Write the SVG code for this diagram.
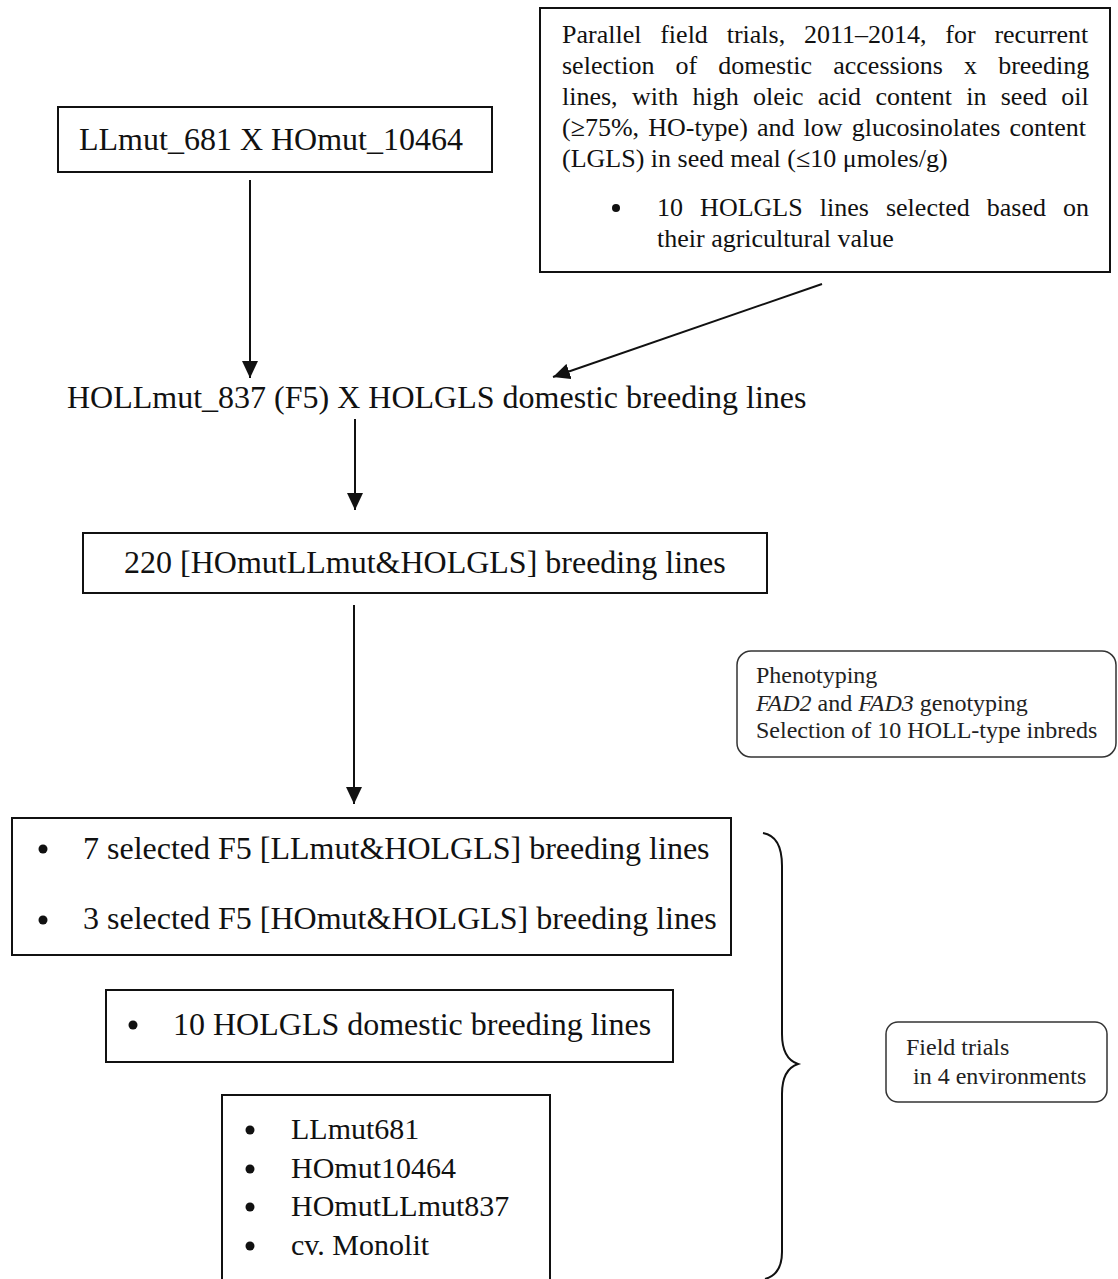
<svg xmlns="http://www.w3.org/2000/svg" width="1118" height="1279" viewBox="0 0 1118 1279">
<defs>
<style>
.box{fill:none;stroke:#111;stroke-width:2}
.rbox{fill:none;stroke:#333;stroke-width:1.5}
.t32{font-family:"Liberation Serif","Times New Roman",serif;font-size:32px;fill:#111}
.t30{font-family:"Liberation Serif","Times New Roman",serif;font-size:30px;fill:#111}
.t26{font-family:"Liberation Serif","Times New Roman",serif;font-size:26px;fill:#111}
.t24{font-family:"Liberation Serif","Times New Roman",serif;font-size:24px;fill:#222}
.bul{fill:#111}
.conn{fill:none;stroke:#111;stroke-width:2}
</style>
<marker id="ah" markerUnits="userSpaceOnUse" markerWidth="18" markerHeight="16" refX="17" refY="8" orient="auto">
<path d="M0,0 L17,8 L0,16 z" fill="#111"/>
</marker>
</defs>
<rect width="1118" height="1279" fill="#fff"/>

<g id="node-trials-box">
<rect class="box" x="540" y="8" width="570" height="264"/>
<text class="t26" x="562" y="43" style="word-spacing:12.3px">Parallel field trials, 2011–2014, for recurrent</text>
<text class="t26" x="562" y="74" style="word-spacing:14.6px">selection of domestic accessions x breeding</text>
<text class="t26" x="562" y="105" style="word-spacing:7.8px">lines, with high oleic acid content in seed oil</text>
<text class="t26" x="562" y="136" style="word-spacing:2.6px">(≥75%, HO-type) and low glucosinolates content</text>
<text class="t26" x="562" y="167">(LGLS) in seed meal (≤10 μmoles/g)</text>
<circle class="bul" cx="616" cy="208" r="4"/>
<text class="t26" x="657" y="216" style="word-spacing:10.6px">10 HOLGLS lines selected based on</text>
<text class="t26" x="657" y="247">their agricultural value</text>
</g>

<g id="node-parents">
<rect class="box" x="58" y="107" width="434" height="65"/>
<text class="t32" x="79" y="150">LLmut_681 X HOmut_10464</text>
</g>

<g id="node-cross">
<text class="t32" x="67" y="408">HOLLmut_837 (F5) X HOLGLS domestic breeding lines</text>
</g>

<g id="node-220">
<rect class="box" x="83" y="533" width="684" height="60"/>
<text class="t32" x="124" y="573">220 [HOmutLLmut&amp;HOLGLS] breeding lines</text>
</g>

<g id="node-phenotyping">
<rect class="rbox" x="737" y="651" width="379" height="106" rx="14" ry="14"/>
<text class="t24" x="756" y="683">Phenotyping</text>
<text class="t24" x="756" y="711"><tspan font-style="italic">FAD2</tspan> and <tspan font-style="italic">FAD3</tspan> genotyping</text>
<text class="t24" x="756" y="738">Selection of 10 HOLL-type inbreds</text>
</g>

<g id="node-selected">
<rect class="box" x="12" y="818" width="719" height="137"/>
<circle class="bul" cx="43" cy="849" r="4.5"/>
<text class="t32" x="83" y="859">7 selected F5 [LLmut&amp;HOLGLS] breeding lines</text>
<circle class="bul" cx="43" cy="920" r="4.5"/>
<text class="t32" x="83" y="929">3 selected F5 [HOmut&amp;HOLGLS] breeding lines</text>
</g>

<g id="node-domestic">
<rect class="box" x="106" y="990" width="567" height="72"/>
<circle class="bul" cx="133" cy="1025" r="4.5"/>
<text class="t32" x="173" y="1035">10 HOLGLS domestic breeding lines</text>
</g>

<g id="node-controls">
<rect class="box" x="222" y="1095" width="328" height="200"/>
<circle class="bul" cx="250" cy="1130" r="4.5"/>
<text class="t30" x="291" y="1139">LLmut681</text>
<circle class="bul" cx="250" cy="1169" r="4.5"/>
<text class="t30" x="291" y="1178">HOmut10464</text>
<circle class="bul" cx="250" cy="1207" r="4.5"/>
<text class="t30" x="291" y="1216">HOmutLLmut837</text>
<circle class="bul" cx="250" cy="1246" r="4.5"/>
<text class="t30" x="291" y="1255">cv. Monolit</text>
</g>

<g id="node-field">
<rect class="rbox" x="886" y="1022" width="221" height="80" rx="12" ry="12"/>
<text class="t24" x="906" y="1055">Field trials</text>
<text class="t24" x="913" y="1084">in 4 environments</text>
</g>

<g id="connectors">
<line class="conn" x1="250" y1="180" x2="250" y2="378" marker-end="url(#ah)"/>
<line class="conn" x1="822" y1="284" x2="553" y2="377" marker-end="url(#ah)"/>
<line class="conn" x1="355" y1="419" x2="355" y2="510" marker-end="url(#ah)"/>
<line class="conn" x1="354" y1="605" x2="354" y2="804" marker-end="url(#ah)"/>
<path class="conn" d="M763,833 C775,835 782,845 782,866 L782,1034 C782,1052 789,1061 798,1064 C789,1067 782,1076 782,1094 L782,1252 C782,1268 776,1276 765,1279"/>
</g>
</svg>
